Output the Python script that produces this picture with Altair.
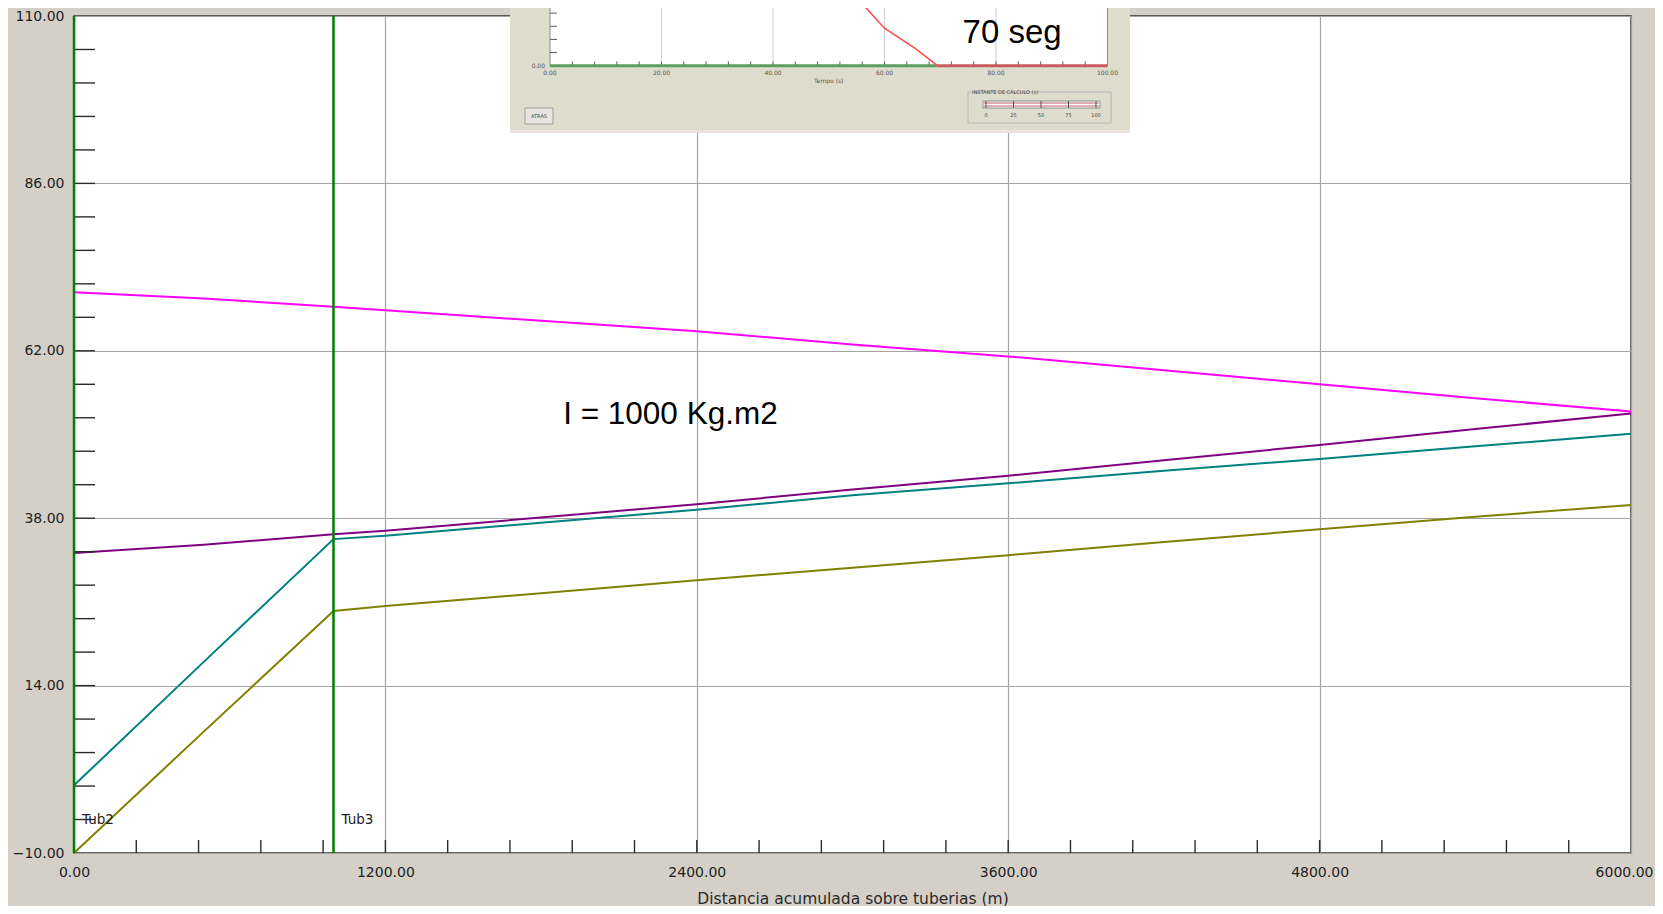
import altair as alt
import pandas as pd

# ---------------- main chart data ----------------
distance = [0, 500, 1000, 1200, 2400, 3000, 3600, 4200, 4800, 5400, 6000]
serie_magenta = [70.4, 69.5, 68.3, 67.8, 64.8, 62.9, 61.2, 59.2, 57.2, 55.2, 53.3]
serie_purple = [33.0, 34.2, 35.7, 36.2, 40.0, 42.1, 44.1, 46.3, 48.5, 50.8, 53.0]
serie_teal = [-0.3, 17.4, 35.0, 35.5, 39.2, 41.3, 43.0, 44.8, 46.5, 48.3, 50.1]
serie_olive = [-10.0, 7.4, 24.7, 25.4, 29.1, 30.9, 32.7, 34.6, 36.4, 38.2, 39.9]
series_names = ["Serie 1", "Serie 2", "Serie 3", "Serie 4"]
series_colors = ["#ff00ff", "#800080", "#008080", "#808000"]

x_major_ticks = [0, 1200, 2400, 3600, 4800, 6000]
y_major_ticks = [-10, 14, 38, 62, 86, 110]
x_minor_ticks = [240, 480, 720, 960, 1200, 1440, 1680, 1920, 2160, 2400, 2640, 2880,
                 3120, 3360, 3600, 3840, 4080, 4320, 4560, 4800, 5040, 5280, 5520, 5760]
y_minor_ticks = [-5.2, -0.4, 4.4, 9.2, 14, 18.8, 23.6, 28.4, 33.2, 38, 42.8, 47.6, 52.4,
                 57.2, 62, 66.8, 71.6, 76.4, 81.2, 86, 90.8, 95.6, 100.4, 105.2]

pipe_starts = [0, 1000]
pipe_names = ["Tub2", "Tub3"]
pipe_label_head = [-5.2, -5.2]

note_text = ["I = 1000 Kg.m2"]
note_dist = [1885]
note_head = [51.5]

# ---------------- inset (screenshot of valve closure window) ----------------
inset_curve_t = [55.4, 60.0, 65.5, 69.5]
inset_curve_v = [20.0, 11.4, 5.3, 0.0]
inset_green_t = [0.0, 69.5]
inset_green_v = [0.0, 0.0]
inset_red_t = [69.5, 100.0]
inset_red_v = [0.0, 0.0]
inset_grid_t = [20, 40, 60, 80]
inset_label_t = [0, 20, 40, 60, 80, 100]
inset_label_txt = ["0.00", "20.00", "40.00", "60.00", "80.00", "100.00"]
inset_minor_t = [4, 8, 12, 16, 24, 28, 32, 36, 44, 48, 52, 56, 64, 68, 72, 76,
                 84, 88, 92, 96]
inset_minor_v = [4, 8, 12, 16]
inset_big_text = ["70 seg"]
inset_big_t = [74.0]
inset_big_v = [6.9]
slider_ticks = [0, 25, 50, 75, 100]
slider_labels = ["0", "25", "50", "75", "100"]

W, H = 1557, 837
FONT = "DejaVu Sans"

# ---------------- main layers ----------------
xs = alt.Scale(domain=[0, 6000], nice=False, zero=False)
ys = alt.Scale(domain=[-10, 110], nice=False, zero=False)
x_axis = alt.Axis(values=x_major_ticks, format=".2f", grid=True, gridColor="#a4a4a4",
                  gridWidth=1.2, tickSize=0, domain=False, labelFont=FONT, labelFontSize=14,
                  labelColor="#1e1e1e", labelPadding=12, labelFlush=False, labelOverlap=False,
                  labelAlign={"expr": "datum.value == 6000 ? 'right' : 'center'"},
                  labelOffset={"expr": "datum.value == 6000 ? 22 : 0"},
                  title="Distancia acumulada sobre tuberias (m)", titleFont=FONT,
                  titleFontSize=15.5, titleFontWeight="normal", titleColor="#2a2a2a",
                  titleY=45, titleBaseline="middle")
y_axis = alt.Axis(values=y_major_ticks, format=".2f", grid=True, gridColor="#a4a4a4",
                  gridWidth=1.2, tickSize=0, domain=False, labelFont=FONT, labelFontSize=14,
                  labelColor="#1e1e1e", labelPadding=10, labelFlush=False, labelOverlap=False,
                  title=None)
X = alt.X("dist:Q", scale=xs, axis=x_axis)
Y = alt.Y("head:Q", scale=ys, axis=y_axis)

rows = []
for name, vals in zip(series_names, [serie_magenta, serie_purple, serie_teal, serie_olive]):
    for d, h in zip(distance, vals):
        rows.append({"dist": d, "head": h, "serie": name})
df_lines = pd.DataFrame(rows)

lines = alt.Chart(df_lines).mark_line(strokeWidth=2).encode(
    x=X, y=Y,
    color=alt.Color("serie:N", scale=alt.Scale(domain=series_names, range=series_colors),
                    legend=None),
)

yticks = alt.Chart(pd.DataFrame({"head": y_minor_ticks})).mark_rule(
    color="#2b2b2b", strokeWidth=1.4).encode(y=Y, x=alt.value(0), x2=alt.value(21))
xticks = alt.Chart(pd.DataFrame({"dist": x_minor_ticks})).mark_rule(
    color="#2b2b2b", strokeWidth=1.4).encode(x=X, y=alt.value(H - 13), y2=alt.value(H))

pipes = alt.Chart(pd.DataFrame({"dist": pipe_starts})).mark_rule(
    color="#008000", strokeWidth=2.5).encode(x=X)
pipe_lbl = alt.Chart(pd.DataFrame({"dist": pipe_starts, "head": pipe_label_head,
                                   "txt": pipe_names})).mark_text(
    align="left", baseline="middle", dx=8, font=FONT, fontSize=13.5, color="#222222"
).encode(x=X, y=Y, text="txt:N")

note = alt.Chart(pd.DataFrame({"dist": note_dist, "head": note_head, "txt": note_text})).mark_text(
    align="left", baseline="alphabetic", font="Liberation Sans", fontSize=31.5, color="#000000"
).encode(x=X, y=Y, text="txt:N")

main = alt.layer(lines, yticks, xticks, pipes, pipe_lbl, note)

# ---------------- inset layers ----------------
one = pd.DataFrame({"k": [0]})
its = alt.Scale(domain=[0, 100], range=[476, 1033.5], nice=False, zero=False)
ivs = alt.Scale(domain=[0, 20], range=[49.7, -16], nice=False, zero=False)
IX = alt.X("t:Q", scale=its, axis=None)
IY = alt.Y("v:Q", scale=ivs, axis=None)

panel = alt.Chart(one).mark_rect(color="#dedccd").encode(
    x=alt.value(436), x2=alt.value(1056), y=alt.value(-16), y2=alt.value(114))
panel_edge = alt.Chart(one).mark_rect(color="#ebe2e0").encode(
    x=alt.value(436), x2=alt.value(1056), y=alt.value(114), y2=alt.value(117))
iplot = alt.Chart(one).mark_rect(fill="white", stroke="#8c8c8c", strokeWidth=1).encode(
    x=alt.value(476), x2=alt.value(1033.5), y=alt.value(-16), y2=alt.value(49.7))
igrid = alt.Chart(pd.DataFrame({"t": inset_grid_t})).mark_rule(
    color="#cfcfcf", strokeWidth=1).encode(x=IX, y=alt.value(-16), y2=alt.value(49.7))
ixt = alt.Chart(pd.DataFrame({"t": inset_minor_t + inset_grid_t})).mark_rule(
    color="#5a5a5a", strokeWidth=1).encode(x=IX, y=alt.value(45.5), y2=alt.value(49.7))
iyt = alt.Chart(pd.DataFrame({"v": inset_minor_v})).mark_rule(
    color="#5a5a5a", strokeWidth=1).encode(y=IY, x=alt.value(476), x2=alt.value(483))
igreen = alt.Chart(pd.DataFrame({"t": inset_green_t, "v": inset_green_v})).mark_line(
    color="#5e9e5e", strokeWidth=3).encode(x=IX, y=IY)
ired = alt.Chart(pd.DataFrame({"t": inset_red_t, "v": inset_red_v})).mark_line(
    color="#c95a5a", strokeWidth=3).encode(x=IX, y=IY)
icurve = alt.Chart(pd.DataFrame({"t": inset_curve_t, "v": inset_curve_v})).mark_line(
    color="#ff4d4d", strokeWidth=1.6).encode(x=IX, y=IY)
ilabels = alt.Chart(pd.DataFrame({"t": inset_label_t, "txt": inset_label_txt})).mark_text(
    baseline="middle", font=FONT, fontSize=6, color="#555555"
).encode(x=IX, y=alt.value(57), text="txt:N")
iy0 = alt.Chart(pd.DataFrame({"v": [0], "txt": ["0.00"]})).mark_text(
    align="right", baseline="middle", font=FONT, fontSize=6, color="#555555"
).encode(y=IY, x=alt.value(471), text="txt:N")
ititle = alt.Chart(pd.DataFrame({"t": [50], "txt": ["Tempo (s)"]})).mark_text(
    baseline="middle", font=FONT, fontSize=6, color="#555555"
).encode(x=IX, y=alt.value(65), text="txt:N")
ibig = alt.Chart(pd.DataFrame({"t": inset_big_t, "v": inset_big_v, "txt": inset_big_text})).mark_text(
    align="left", baseline="alphabetic", font="Liberation Sans", fontSize=33, color="#000000"
).encode(x=IX, y=IY, text="txt:N")
button = alt.Chart(one).mark_rect(fill="#e8e5df", stroke="#9a9a9a", strokeWidth=1).encode(
    x=alt.value(451), x2=alt.value(479), y=alt.value(92), y2=alt.value(108))
button_txt = alt.Chart(pd.DataFrame({"txt": ["ATRÁS"]})).mark_text(
    font=FONT, fontSize=5, color="#444444", baseline="middle"
).encode(x=alt.value(465), y=alt.value(100), text="txt:N")
gbox = alt.Chart(one).mark_rect(fill="#dedccd", stroke="#b4b4b4", strokeWidth=1).encode(
    x=alt.value(894), x2=alt.value(1037), y=alt.value(76), y2=alt.value(107))
gbox_txt = alt.Chart(pd.DataFrame({"txt": ["INSTANTE DE CÁLCULO (s)"]})).mark_text(
    font=FONT, fontSize=5, color="#444444", baseline="middle", align="left"
).encode(x=alt.value(898), y=alt.value(76), text="txt:N")
track = alt.Chart(one).mark_rect(fill="white", stroke="#8c8c8c", strokeWidth=1).encode(
    x=alt.value(909), x2=alt.value(1026), y=alt.value(85), y2=alt.value(92))
track_l1 = alt.Chart(one).mark_rule(color="#c06060", strokeWidth=1).encode(
    x=alt.value(910), x2=alt.value(1025), y=alt.value(87))
track_l2 = alt.Chart(one).mark_rule(color="#c06060", strokeWidth=1).encode(
    x=alt.value(910), x2=alt.value(1025), y=alt.value(90))

inset = alt.layer(panel, panel_edge, iplot, igrid, ixt, iyt, igreen, ired, icurve,
                  ilabels, iy0, ititle, ibig, button, button_txt, gbox, gbox_txt,
                  track, track_l1, track_l2)

# slider ticks and labels (own scale: slider position 0..100)
ss = alt.Scale(domain=[0, 100], range=[912, 1022], nice=False, zero=False)
SX = alt.X("s:Q", scale=ss, axis=None)
sdf = pd.DataFrame({"s": slider_ticks, "txt": slider_labels})
stick = alt.Chart(sdf).mark_rule(color="#555555", strokeWidth=1).encode(
    x=SX, y=alt.value(85), y2=alt.value(92))
slab = alt.Chart(sdf).mark_text(font=FONT, fontSize=5, color="#444444", baseline="middle").encode(
    x=SX, y=alt.value(99), text="txt:N")
slider = alt.layer(stick, slab)

chart = alt.layer(main, inset, slider).resolve_scale(
    x="independent", y="independent"
).properties(
    width=W, height=H, background="#d4d0c8",
    padding={"left": 66, "top": 8, "right": 24, "bottom": 53},
    autosize=alt.AutoSizeParams(type="none"),
).configure_view(fill="white", stroke="#333333", strokeWidth=1.5)

chart.save("out.html", embed_options={"renderer": "svg", "actions": False})
